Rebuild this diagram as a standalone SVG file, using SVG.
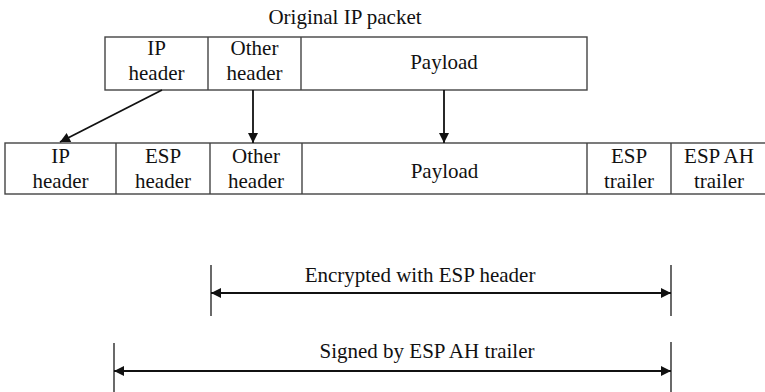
<svg xmlns="http://www.w3.org/2000/svg" width="765" height="392" viewBox="0 0 765 392">
<style>
text{font-family:"Liberation Serif","Times New Roman",serif;font-size:21px;fill:#111;text-anchor:middle}
.box{fill:#fff;stroke:#444;stroke-width:1.4}
.div{stroke:#444;stroke-width:1.4}
.con{stroke:#111;stroke-width:1.8;fill:none}
.tick{stroke:#444;stroke-width:1.6}
</style>
<defs>
<marker id="ah" viewBox="0 0 10 10" refX="10" refY="5" markerWidth="11" markerHeight="10" markerUnits="userSpaceOnUse" orient="auto-start-reverse">
<path d="M0,0 L10,5 L0,10 z" fill="#111"/>
</marker>
</defs>
<rect width="765" height="392" fill="#fff"/>
<text x="345" y="24">Original IP packet</text>
<g id="orig-packet">
<rect class="box" x="105" y="37" width="482" height="53"/>
<line class="div" x1="208" y1="37" x2="208" y2="90"/>
<line class="div" x1="301" y1="37" x2="301" y2="90"/>
</g>
<g id="orig-ip-header"><text x="156.5" y="55">IP</text><text x="156.5" y="80">header</text></g>
<g id="orig-other-header"><text x="254.5" y="55">Other</text><text x="254.5" y="80">header</text></g>
<g id="orig-payload"><text x="444" y="69">Payload</text></g>
<g id="esp-packet">
<rect class="box" x="5" y="143" width="765" height="51"/>
<line class="div" x1="116" y1="143" x2="116" y2="194"/>
<line class="div" x1="210" y1="143" x2="210" y2="194"/>
<line class="div" x1="302" y1="143" x2="302" y2="194"/>
<line class="div" x1="587" y1="143" x2="587" y2="194"/>
<line class="div" x1="671" y1="143" x2="671" y2="194"/>
</g>
<g id="new-ip-header"><text x="60.5" y="163">IP</text><text x="60.5" y="188">header</text></g>
<g id="esp-header"><text x="163" y="163">ESP</text><text x="163" y="188">header</text></g>
<g id="new-other-header"><text x="256" y="163">Other</text><text x="256" y="188">header</text></g>
<g id="new-payload"><text x="444.5" y="178">Payload</text></g>
<g id="esp-trailer"><text x="629" y="163">ESP</text><text x="629" y="188">trailer</text></g>
<g id="esp-ah-trailer"><text x="719" y="163">ESP AH</text><text x="719" y="188">trailer</text></g>
<g id="connectors">
<line class="con" x1="162" y1="90" x2="60" y2="142" marker-end="url(#ah)"/>
<line class="con" x1="253" y1="90" x2="253" y2="143" marker-end="url(#ah)"/>
<line class="con" x1="444" y1="90" x2="444" y2="143" marker-end="url(#ah)"/>
</g>
<g id="encrypted-range">
<line class="tick" x1="211" y1="265" x2="211" y2="316"/>
<line class="tick" x1="671" y1="265" x2="671" y2="316"/>
<line class="con" x1="211" y1="293" x2="671" y2="293" marker-start="url(#ah)" marker-end="url(#ah)"/>
<text x="420" y="282">Encrypted with ESP header</text>
</g>
<g id="signed-range">
<line class="tick" x1="114" y1="343" x2="114" y2="392"/>
<line class="tick" x1="671" y1="342" x2="671" y2="392"/>
<line class="con" x1="114" y1="371" x2="671" y2="371" marker-start="url(#ah)" marker-end="url(#ah)"/>
<text x="427" y="358">Signed by ESP AH trailer</text>
</g>
</svg>
